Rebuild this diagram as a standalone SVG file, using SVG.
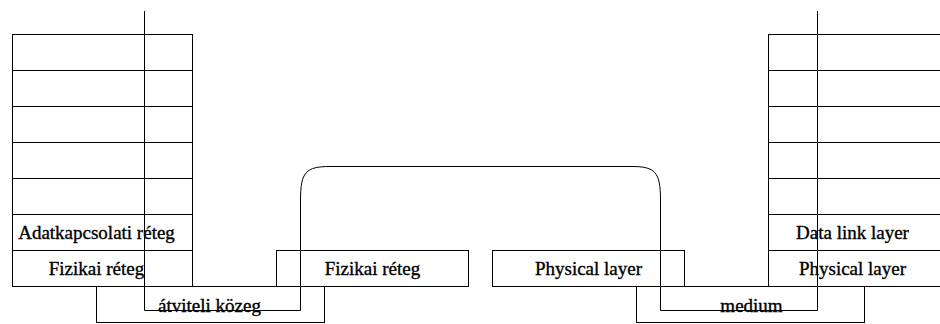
<svg xmlns="http://www.w3.org/2000/svg" width="940" height="324" viewBox="0 0 940 324">
<style>
.box{fill:none;stroke:#000;stroke-width:1}
.lbl{font-family:"Liberation Serif","Times New Roman",serif;font-size:19px;fill:#000;stroke:#000;stroke-width:0.35;text-anchor:middle}
.conn{fill:none;stroke:#000;stroke-width:1}
</style>
<rect width="940" height="324" fill="#fff"/>
<g id="stack-left">
<rect class="box" x="12.5" y="34.5" width="180" height="36"/>
<rect class="box" x="12.5" y="70.5" width="180" height="36"/>
<rect class="box" x="12.5" y="106.5" width="180" height="36"/>
<rect class="box" x="12.5" y="142.5" width="180" height="36"/>
<rect class="box" x="12.5" y="178.5" width="180" height="36"/>
<g id="left-datalink"><rect class="box" x="12.5" y="214.5" width="180" height="36"/><text class="lbl" x="96.5" y="239">Adatkapcsolati réteg</text></g>
<g id="left-physical"><rect class="box" x="12.5" y="250.5" width="180" height="36"/><text class="lbl" x="96.5" y="275">Fizikai réteg</text></g>
</g>
<g id="stack-right">
<rect class="box" x="768.5" y="34.5" width="180" height="36"/>
<rect class="box" x="768.5" y="70.5" width="180" height="36"/>
<rect class="box" x="768.5" y="106.5" width="180" height="36"/>
<rect class="box" x="768.5" y="142.5" width="180" height="36"/>
<rect class="box" x="768.5" y="178.5" width="180" height="36"/>
<g id="right-datalink"><rect class="box" x="768.5" y="214.5" width="180" height="36"/><text class="lbl" x="852.5" y="239">Data link layer</text></g>
<g id="right-physical"><rect class="box" x="768.5" y="250.5" width="180" height="36"/><text class="lbl" x="852.5" y="275">Physical layer</text></g>
</g>
<g id="medium-left"><rect class="box" x="96.5" y="286.5" width="228" height="36"/><text class="lbl" x="209.5" y="311.5">átviteli közeg</text></g>
<g id="medium-right"><rect class="box" x="636.5" y="286.5" width="228" height="36"/><text class="lbl" x="751.5" y="311.5">medium</text></g>
<g id="mid-fizikai"><rect class="box" x="276.5" y="250.5" width="192" height="36"/><text class="lbl" x="372.5" y="275">Fizikai réteg</text></g>
<g id="mid-physical"><rect class="box" x="492.5" y="250.5" width="192" height="36"/><text class="lbl" x="588.5" y="275">Physical layer</text></g>
<g id="connectors">
<path class="conn" d="M144.5,11 V310.5 H300.5 V200 C300.5,172 306,166.5 330,166.5 H632 C655,166.5 660.5,172 660.5,200 V310.5 H817.5 V11"/>
</g>
</svg>
